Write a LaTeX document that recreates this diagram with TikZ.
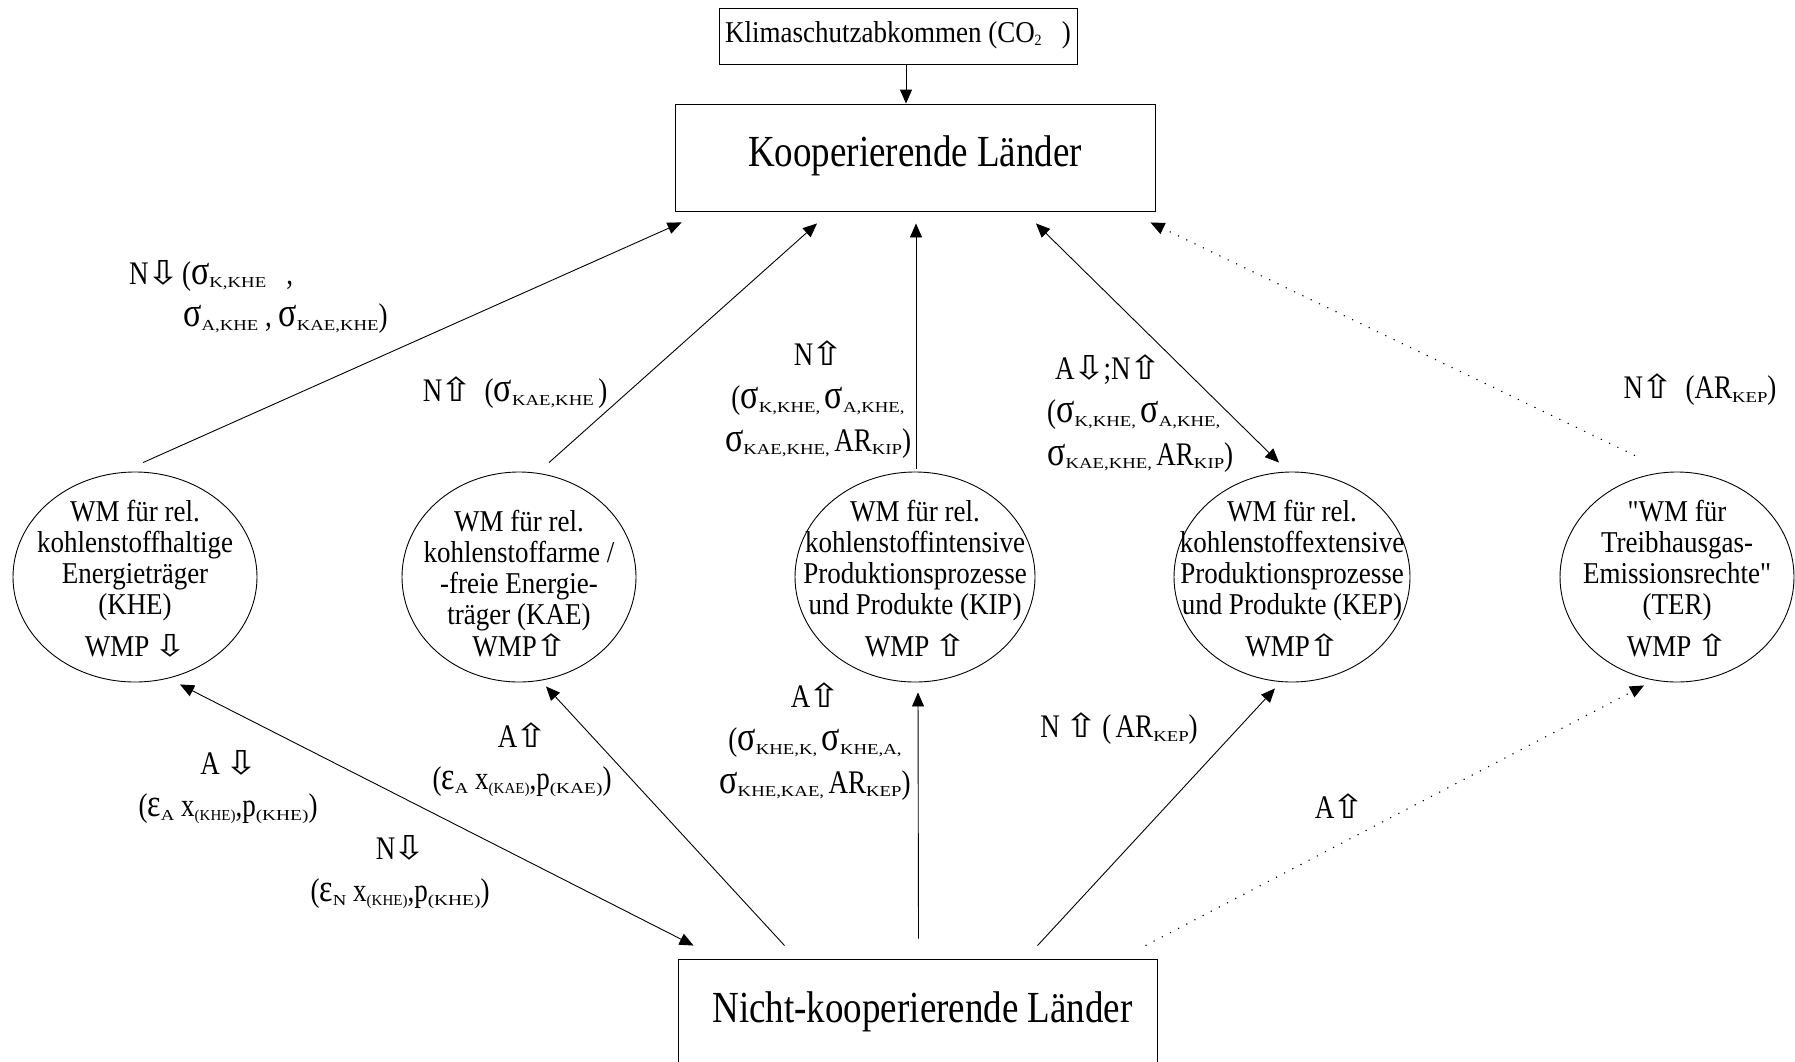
\documentclass[tikz,border=0pt]{standalone}
\usepackage{fontspec}
\setmainfont{Liberation Serif}
\newfontfamily\rkdejavu{DejaVu Sans}
\usepackage{graphicx}
\usetikzlibrary{arrows.meta,shapes.geometric}
\newcommand{\rkdn}{{\kern-2.5pt\rkdejavu\scalebox{1.5}[1]{⇩}\kern-2.5pt}}
\newcommand{\rkup}{{\kern-2.5pt\rkdejavu\scalebox{1.5}[1]{⇧}\kern-2.5pt}}
\newcommand{\rksig}{{\fontsize{34}{34}\selectfont σ}}
\newcommand{\rkeps}{{\fontsize{32}{32}\selectfont ε}}
\newcommand{\rksub}[2][1.5]{\raisebox{-3pt}{\scalebox{#1}[1]{\fontsize{12.5}{12.5}\selectfont #2}}}
\newcommand{\rkquot}{\XeTeXglyph\XeTeXcharglyph34\relax}
\newcommand{\rktab}[3][1.12]{\scalebox{1}[#1]{\begin{tabular}{@{}#2@{}}#3\end{tabular}}}
\begin{document}
\begin{tikzpicture}[x=1pt,y=-1pt,
  >={Triangle[length=14pt,width=12pt]},
  rkbox/.style={draw, line width=0.9pt, rectangle, inner sep=0pt},
  rkell/.style={draw, line width=0.9pt, ellipse, minimum width=238pt, minimum height=210pt, inner sep=0pt},
  rketext/.style={inner sep=0pt, font=\fontsize{27}{27.5}\selectfont, yshift=-6pt},
  rklbl/.style={inner sep=0pt, font=\fontsize{27}{35}\selectfont},
  rkcon/.style={line width=0.9pt},
  rkdot/.style={line width=1.1pt, dash pattern=on 1.2pt off 8pt}]
\useasboundingbox (0,0) rectangle (1795,1061);
\fill[white] (0,0) rectangle (1795,1061);
\clip (0,0) rectangle (1795,1061);
\node[rkbox, minimum width=358pt, minimum height=56pt, font=\fontsize{27}{27}\selectfont] (Klima) at (898,36)
  {\rktab{c}{Klimaschutzabkommen (CO\raisebox{-3pt}{\fontsize{14}{14}\selectfont 2}\ \ \ )}};
\node[rkbox, minimum width=480pt, minimum height=107pt, font=\fontsize{37}{37}\selectfont] (Koop) at (915,157.5)
  {\rktab[1.2]{c}{Kooperierende Länder}};
\node[rkbox, minimum width=479pt, minimum height=110pt, font=\fontsize{37}{37}\selectfont] (Nicht) at (917.5,1014)
  {\rktab[1.2]{c}{\hspace{10pt}Nicht-kooperierende Länder}};
\node[rkell, minimum width=244pt, label={[rketext]center:{\rktab{c}{WM für rel.\\kohlenstoffhaltige\\Energieträger\\(KHE)\\[10pt] WMP \rkdn}}}] (KHE) at (135,577) {};
\node[rkell, minimum width=234pt, label={[rketext, yshift=-5pt]center:{\rktab{c}{WM für rel.\\kohlenstoffarme /\\-freie Energie-\\träger (KAE)\\WMP\rkup}}}] (KAE) at (519,577) {};
\node[rkell, minimum width=240pt, label={[rketext]center:{\rktab{c}{WM für rel.\\kohlenstoffintensive\\Produktionsprozesse\\und Produkte (KIP)\\[9pt] WMP \rkup}}}] (KIP) at (915,577) {};
\node[rkell, minimum width=236pt, label={[rketext]center:{\rktab{c}{WM für rel.\\kohlenstoffextensive\\Produktionsprozesse\\und Produkte (KEP)\\[9pt] WMP\rkup}}}] (KEP) at (1292,577) {};
\node[rkell, minimum width=234pt, label={[rketext]center:{\rktab{c}{\rkquot WM für\\Treibhausgas-\\Emissionsrechte\rkquot\\(TER)\\[9pt] WMP \rkup}}}] (TER) at (1677,577) {};
\node[rklbl, anchor=west] (l1) at (129,297)
  {\rktab[1.22]{l}{N\rkdn\,(\rksig\rksub{K,KHE}\ \ \ ,\\ \hspace{54pt}\rksig\rksub{A,KHE}\ , \rksig\rksub{KAE,KHE})}};
\node[rklbl] (l2) at (515,393) {\rktab[1.22]{c}{N\rkup\ \ (\rksig\rksub{KAE,KHE}\,)}};
\node[rklbl] (l3) at (818,400)
  {\rktab[1.22]{c}{N\rkup\\(\rksig\rksub{K,KHE,}\,\rksig\rksub{A,KHE,}\\ \rksig\rksub{KAE,KHE,}\,AR\rksub{KIP})}};
\node[rklbl, anchor=west] (l4) at (1047,414)
  {\rktab[1.22]{l}{\hspace{8pt}A\rkdn;N\rkup\\(\rksig\rksub{K,KHE,}\,\rksig\rksub{A,KHE,}\\ \rksig\rksub{KAE,KHE,}\,AR\rksub{KIP})}};
\node[rklbl] (l5) at (1700,390) {\rktab[1.22]{c}{N\rkup\ \ (AR\rksub{KEP})}};
\node[rklbl] (l6) at (228,787)
  {\rktab[1.22]{c}{A\ \rkdn\\(\rkeps\rksub{A}\ x\rksub[1.2]{(KHE)},p\rksub[1.55]{(KHE)})}};
\node[rklbl] (l7) at (400,872)
  {\rktab[1.22]{c}{N\rkdn\\(\rkeps\rksub{N}\ x\rksub[1.2]{(KHE)},p\rksub[1.55]{(KHE)})}};
\node[rklbl] (l8) at (522,760)
  {\rktab[1.22]{c}{A\rkup\\(\rkeps\rksub{A}\ x\rksub[1.2]{(KAE)},p\rksub[1.55]{(KAE)})}};
\node[rklbl] (l9) at (815,742)
  {\rktab[1.22]{c}{A\rkup\\(\rksig\rksub{KHE,K,}\,\rksig\rksub{KHE,A,}\\ \rksig\rksub{KHE,KAE,}\,AR\rksub{KEP})}};
\node[rklbl] (l10) at (1119,729) {\rktab[1.22]{c}{N \rkup\ (\,AR\rksub{KEP})}};
\node[rklbl] (l11) at (1339,810) {\rktab[1.22]{c}{A\rkup}};
\draw[rkcon,->] ([xshift=8pt]Klima.south) -- ([xshift=-9pt]Koop.north);
\draw[rkcon,->] ([shift={(8,-9)}]KHE.north) -- ([shift={(7,11)}]Koop.south west);
\draw[rkcon,->] ([shift={(30,-9)}]KAE.north) -- ([shift={(-98,12)}]Koop.south);
\draw[rkcon,->] ([shift={(1,-3)}]KIP.north) -- ([shift={(1,12)}]Koop.south);
\draw[rkcon,<->] ([shift={(121,12)}]Koop.south) -- ([shift={(-13,-9)}]KEP.north);
\draw[rkdot,->] ([shift={(-42,-16)}]TER.north) -- ([shift={(-5,11)}]Koop.south east);
\draw[rkcon,<->] ([shift={(16,-13)}]Nicht.north west) -- ([shift={(45,2)}]KHE.south);
\draw[rkcon,->] ([shift={(107,-13)}]Nicht.north west) -- ([shift={(27,4)}]KAE.south);
\draw[rkcon,->] ([shift={(1,-20)}]Nicht.north) -- ([shift={(3,10)}]KIP.south);
\draw[rkcon,->] ([shift={(120,-13)}]Nicht.north) -- ([shift={(-17,6)}]KEP.south);
\draw[rkdot,->] ([shift={(-12,-13)}]Nicht.north east) -- ([shift={(-33,3)}]TER.south);
\end{tikzpicture}
\end{document}
